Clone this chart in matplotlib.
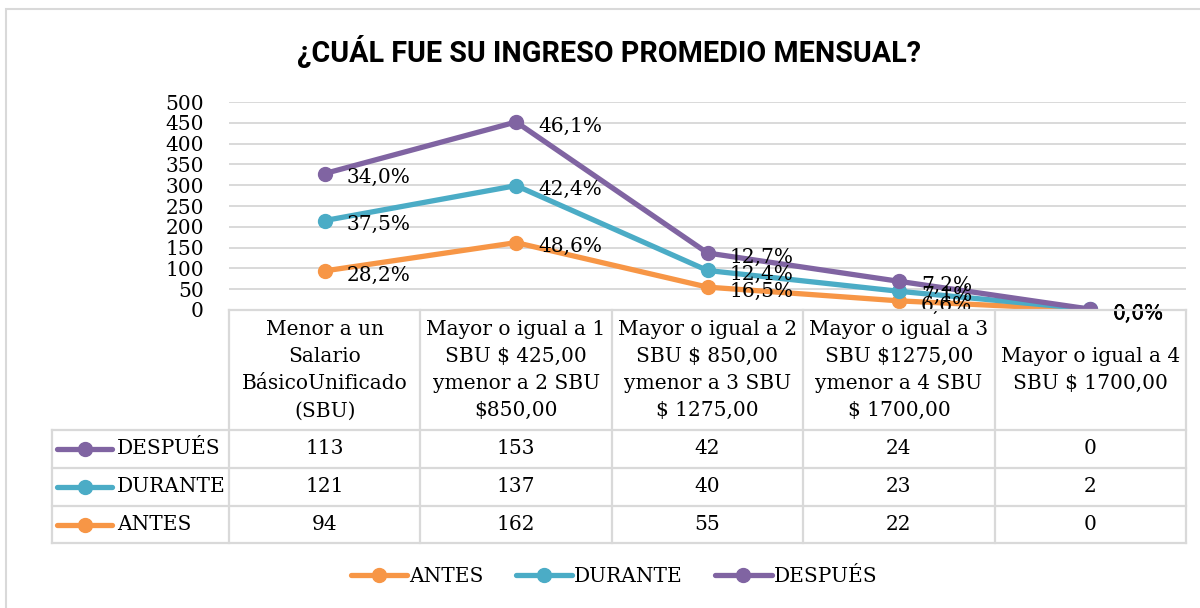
import numpy as np
import matplotlib
matplotlib.use("Agg")
import matplotlib.pyplot as plt
from matplotlib.lines import Line2D
from matplotlib.patches import Rectangle

# datos
categorias = [
    "Menor a un\nSalario\nBásicoUnificado\n(SBU)",
    "Mayor o igual a 1\nSBU \\$ 425,00\nymenor a 2 SBU\n\\$850,00",
    "Mayor o igual a 2\nSBU \\$ 850,00\nymenor a 3 SBU\n\\$ 1275,00",
    "Mayor o igual a 3\nSBU \\$1275,00\nymenor a 4 SBU\n\\$ 1700,00",
    "Mayor o igual a 4\nSBU \\$ 1700,00",
]
antes = [94, 162, 55, 22, 0]
durante = [121, 137, 40, 23, 2]
despues = [113, 153, 42, 24, 0]

series = ["ANTES", "DURANTE", "DESPUÉS"]
valores = [antes, durante, despues]
colores = ["#F79646", "#4BACC6", "#8064A2"]

serif = "DejaVu Serif"
W, H = 1200, 608

def fx(x):
    return x / W

def fy(y):
    return 1 - y / H

fig = plt.figure(figsize=(12, 6.08), dpi=100)

# marco del gráfico
fig.add_artist(Rectangle((fx(6), fy(640)), fx(1250), fy(9) - fy(640),
                         transform=fig.transFigure, fill=False,
                         edgecolor="#d9d9d9", lw=1.5))

x_izq, x_der = 229, 1186
y_top, y_cero = 102, 310
ax = fig.add_axes([fx(x_izq), fy(y_cero), fx(x_der - x_izq), fy(y_top) - fy(y_cero)])

n = len(categorias)
xs = np.arange(n)
acum = np.zeros(n)
for nombre, vals, col in zip(series, valores, colores):
    vals = np.array(vals)
    acum = acum + vals
    ax.plot(xs, acum, color=col, lw=3.8, marker="o", ms=10, label=nombre,
            solid_capstyle="round", zorder=3)
    total = vals.sum()
    for i in range(n):
        pct = f"{100 * vals[i] / total:.1f}%".replace(".", ",")
        ax.annotate(pct, (xs[i], acum[i]), xytext=(16, -3), textcoords="offset points",
                    ha="left", va="center", fontsize=14.5, family=serif, zorder=4)

ax.set_xlim(-0.5, n - 0.5)
ax.set_ylim(0, 500)
ax.set_yticks(np.arange(0, 501, 50))
ax.grid(axis="y", color="#d9d9d9", lw=1.4)
ax.set_axisbelow(True)
ax.set_xticks([])
for s in ax.spines.values():
    s.set_visible(False)
ax.tick_params(axis="y", length=0, pad=18, labelsize=14.5)
for t in ax.get_yticklabels():
    t.set_family(serif)

fig.text(fx(609), fy(52), "¿CUÁL FUE SU INGRESO PROMEDIO MENSUAL?",
         ha="center", va="center", fontsize=20.7, fontweight="bold",
         family=["Roboto", "DejaVu Sans"])

# tabla de datos
ancho = (x_der - x_izq) / n
col_x = [x_izq + ancho * i for i in range(n + 1)]
filas_y = [310, 430, 468, 506, 543]
gris = "#d9d9d9"

def linea(x0, y0, x1, y1):
    fig.add_artist(Line2D([fx(x0), fx(x1)], [fy(y0), fy(y1)], transform=fig.transFigure,
                          color=gris, lw=1.6))

for x in col_x:
    linea(x, filas_y[0], x, filas_y[-1])
linea(52, filas_y[1], 52, filas_y[-1])
linea(x_izq, filas_y[0], x_der, filas_y[0])
for y in filas_y[1:]:
    linea(52, y, x_der, y)

for i, cat in enumerate(categorias):
    fig.text(fx(col_x[i] + ancho / 2), fy(370), cat, ha="center", va="center",
             fontsize=14.5, family=serif, linespacing=1.55)

orden_tabla = [2, 1, 0]
for r, k in enumerate(orden_tabla):
    yc = (filas_y[r + 1] + filas_y[r + 2]) / 2
    fig.add_artist(Line2D([fx(57), fx(84.5), fx(112)], [fy(yc)] * 3,
                          transform=fig.transFigure, color=colores[k], lw=3.8,
                          marker="o", ms=10, markevery=[1], solid_capstyle="round"))
    fig.text(fx(117), fy(yc), series[k], ha="left", va="center",
             fontsize=14.5, family=serif)
    for i in range(n):
        fig.text(fx(col_x[i] + ancho / 2), fy(yc), str(valores[k][i]),
                 ha="center", va="center", fontsize=14.5, family=serif)

leg = fig.legend(loc="center", bbox_to_anchor=(fx(614), fy(577)), ncol=3,
                 frameon=False, prop={"family": serif, "size": 14.5},
                 handlelength=2.8, handletextpad=0.1, columnspacing=1.6)

fig.savefig("out.png", dpi=100)
